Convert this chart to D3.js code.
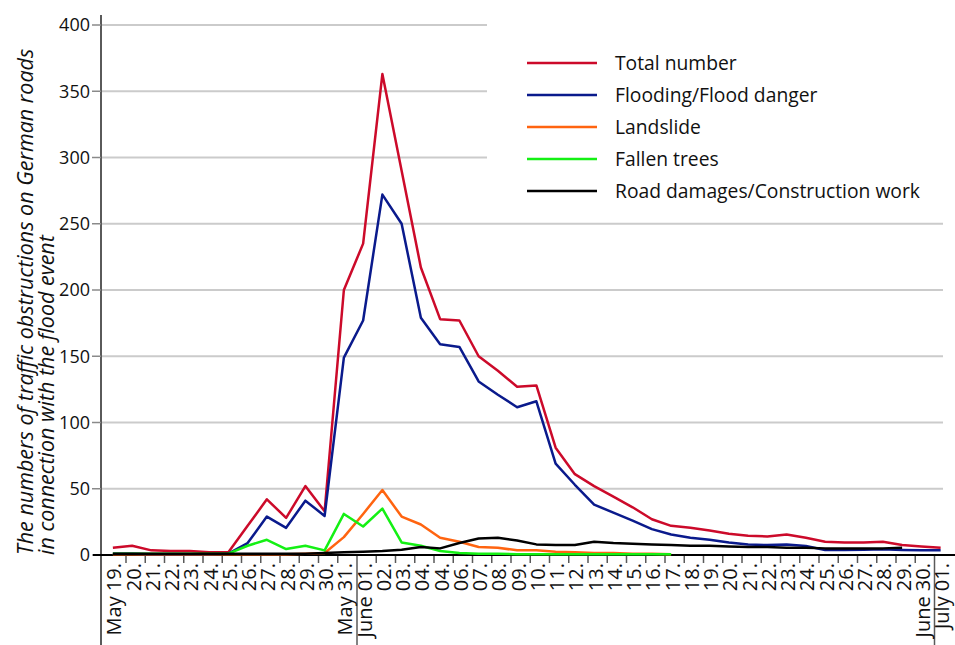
<!DOCTYPE html>
<html>
<head>
<meta charset="utf-8">
<script src="https://cdn.jsdelivr.net/npm/d3@7"></script>
<style>
  body { margin: 0; background: #fff; }
  text { font-family: "Open Sans", sans-serif; fill: #111; }
</style>
</head>
<body>
<svg width="955" height="645"></svg>
<script>
// day labels as printed on the original (note the repeated "04.")
const days = ["May 19.", "20.", "21.", "22.", "23.", "24.", "25.", "26.", "27.", "28.", "29.", "30.", "May 31.",
    "June 01.", "02.", "03.", "04.", "04.", "06.", "07.", "08.", "09.", "10.", "11.", "12.", "13.", "14.", "15.",
    "16.", "17.", "18.", "19.", "20.", "21.", "22.", "23.", "24.", "25.", "26.", "27.", "28.", "29.", "June 30.", "July 01."]

const total = [5.5, 7, 3.5, 3, 3, 2, 2, 22, 42, 28, 52, 33, 200, 235, 363, 290, 217, 178, 177, 150, 139, 127, 128,
    81, 61, 52, 44, 36, 27, 22, 20.5, 18.5, 16, 14.5, 14, 15.5, 13, 10, 9.5, 9.5, 10, 7.5, 6.5, 5.5]
const flooding = [1, 1, 0.5, 0.5, 0.5, 0.5, 1, 9, 29, 20.5, 41, 29.5, 149, 177, 272, 250, 179, 159, 157, 131, 121,
    111.5, 116, 69, 53, 38, 32, 26, 19.5, 15.5, 13, 11.5, 9.5, 8, 7.5, 8, 6.8, 3.8, 3.8, 4, 4.3, 3.8, 3.5, 3.5]
const landslide = [0.5, 0.5, 0.5, 0.5, 0.5, 0.5, 0.5, 0.5, 0.5, 0.5, 1, 1.5, 13.5, 31, 49, 29, 23, 13, 10, 6, 5.5,
    3.5, 3.5, 2.5, 2, 1.5, 1.5, 1, 1, 0.5, null, null, null, null, null, null, null, null, null, null, null, null, null, null]
const trees = [1, 1, 1, 1, 1, 1, 1, 7, 11.5, 4.5, 7, 3.5, 31, 21.5, 35, 9.5, 7, 3, 1.5, 1, 1, 0.5, 0.5, 0.5, 0.5,
    0.5, 0.5, 0.5, 0.5, 0.5, null, null, null, null, null, null, null, null, null, null, null, null, null, null]
const roads = [1, 1, 1, 1, 1, 1, 1, 1, 1, 1, 1, 1.5, 2, 2.5, 3, 4, 6, 5, 9, 12.5, 13, 11, 8, 7.5, 7.5, 10, 9, 8.5,
    8, 7.5, 7, 7, 6.5, 6, 6, 5.5, 5.5, 5, 5, 5, 5, 5.5, null, null]

const seriesNames = ["Total number", "Flooding/Flood danger", "Landslide", "Fallen trees", "Road damages/Construction work"]
const seriesColors = ["#cc0a2a", "#0a1a8c", "#ff6410", "#14f014", "#000000"]
const yTicks = [0, 50, 100, 150, 200, 250, 300, 350, 400]

var svg = d3.select("svg")

var x = d3.scaleBand()
    .domain(d3.range(days.length))
    .range([106.75, 953.75])
var y = d3.scaleLinear()
    .domain([0, 400])
    .range([555, 25])

// grid
svg.append("g")
    .selectAll("line")
    .data(yTicks.filter(d => d > 0))
    .join("line")
    .attr("x1", 101)
    .attr("x2", 943)
    .attr("y1", d => y(d))
    .attr("y2", d => y(d))
    .attr("stroke", "#cbcbcb")
    .attr("stroke-width", 2)

// legend box hides the upper gridlines
svg.append("rect")
    .attr("x", 487)
    .attr("y", 10)
    .attr("width", 468)
    .attr("height", 200)
    .attr("fill", "#fff")

// y axis
svg.append("line")
    .attr("x1", 101).attr("x2", 101)
    .attr("y1", 15).attr("y2", 645)
    .attr("stroke", "#5a5a5a")
    .attr("stroke-width", 2)

var yAxis = svg.append("g")
yAxis.selectAll("line")
    .data(yTicks)
    .join("line")
    .attr("x1", 92).attr("x2", 101)
    .attr("y1", d => y(d)).attr("y2", d => y(d))
    .attr("stroke", "#8a8a8a")
    .attr("stroke-width", 1.5)
yAxis.selectAll("text")
    .data(yTicks)
    .join("text")
    .attr("x", 90)
    .attr("y", d => y(d))
    .attr("dy", "0.36em")
    .attr("text-anchor", "end")
    .style("font-size", "18px")
    .text(d => d)

svg.append("text")
    .attr("transform", "translate(33,555) rotate(-90)")
    .style("font-size", "21.5px")
    .style("font-style", "italic")
    .text("The numbers of traffic obstructions on German roads")
svg.append("text")
    .attr("transform", "translate(54,555) rotate(-90)")
    .style("font-size", "21.5px")
    .style("font-style", "italic")
    .text("in connection with the flood event")

// x axis
var xAxis = svg.append("g")
xAxis.selectAll("line.tick")
    .data(d3.range(1, days.length))
    .join("line")
    .attr("class", "tick")
    .attr("x1", d => x(d)).attr("x2", d => x(d))
    .attr("y1", 555)
    .attr("y2", d => (d == 13 || d == 43) ? 645 : 563)
    .attr("stroke", "#5a5a5a")
    .attr("stroke-width", 1.5)
xAxis.selectAll("text")
    .data(days)
    .join("text")
    .attr("transform", (d, i) => `translate(${x(i) + x.bandwidth() / 2 + 5},563) rotate(-90)`)
    .attr("text-anchor", "end")
    .style("font-size", "20px")
    .text(d => d)
svg.append("line")
    .attr("x1", 93).attr("x2", 955)
    .attr("y1", 555).attr("y2", 555)
    .attr("stroke", "#000")
    .attr("stroke-width", 2)

// lines
var line = d3.line()
    .defined(d => d != null)
    .x((d, i) => x(i) + x.bandwidth() / 2 - 3.5)
    .y(d => y(d))

svg.append("g")
    .selectAll("path")
    .data([total, flooding, landslide, trees, roads])
    .join("path")
    .attr("d", d => line(d))
    .attr("fill", "none")
    .attr("stroke", (d, i) => seriesColors[i])
    .attr("stroke-width", 2.5)
    .attr("stroke-linejoin", "round")

// legend
var legend = svg.append("g")
    .selectAll("g")
    .data(seriesNames)
    .join("g")
    .attr("transform", (d, i) => `translate(527,${63 + i * 32})`)
legend.append("line")
    .attr("x1", 0).attr("x2", 70)
    .attr("stroke", (d, i) => seriesColors[i])
    .attr("stroke-width", 2.5)
legend.append("text")
    .attr("x", 88)
    .attr("dy", "0.35em")
    .style("font-size", "19.3px")
    .text(d => d)
</script>
</body>
</html>
